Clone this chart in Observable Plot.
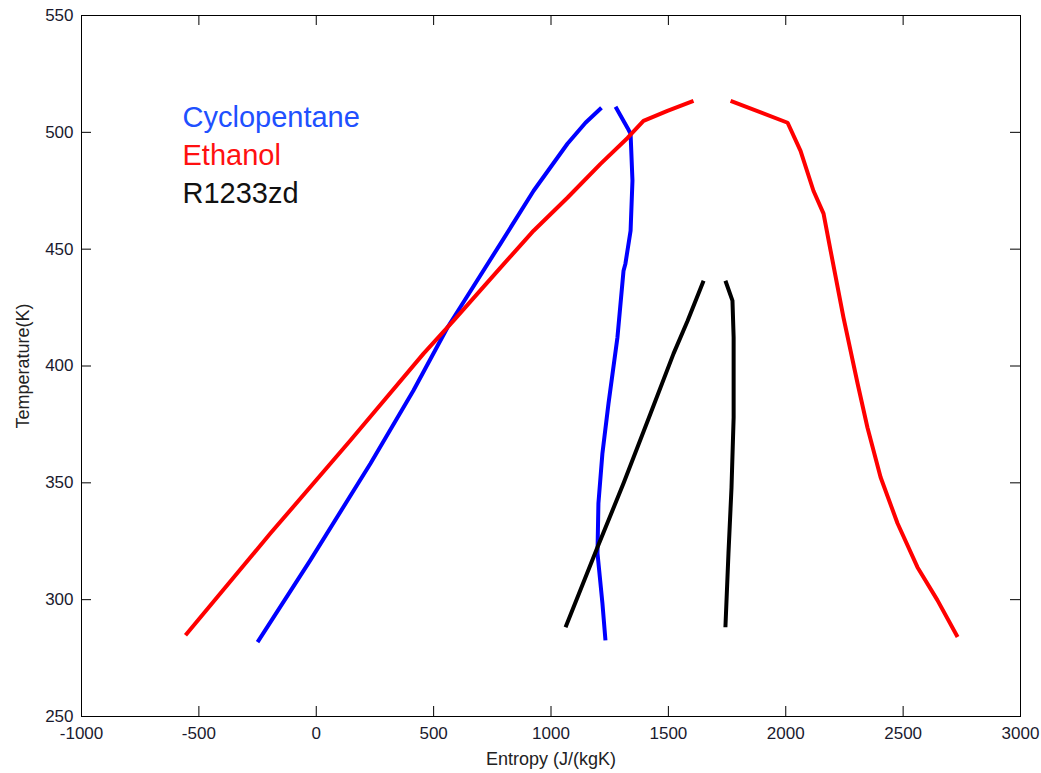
<!DOCTYPE html>
<html>
<head>
<meta charset="utf-8">
<script src="https://cdn.jsdelivr.net/npm/d3@7"></script>
<script src="https://cdn.jsdelivr.net/npm/@observablehq/plot@0.6"></script>
<style>
  html, body { margin: 0; padding: 0; background: #fff; }
  #chart svg { display: block; }
</style>
</head>
<body>
<div id="chart"></div>
<script>
// ---- data (entropy J/(kgK), temperature K) ----
const cycloLiqS = [-250, -25, 231, 414, 559, 785, 926, 1070, 1147, 1215];
const cycloLiqT = [281.8, 316.9, 358.3, 389.5, 416.5, 452.4, 475, 495.1, 504.1, 510.5];
const cycloVapS = [1275, 1326, 1339, 1347, 1339, 1317, 1309, 1283, 1245, 1219, 1202, 1198, 1219, 1232];
const cycloVapT = [510.9, 501.9, 499.4, 479.3, 457.9, 443.8, 440.8, 412.2, 384, 362.6, 341.2, 319.9, 298.5, 282.6];

const ethLiqS = [-557, -195, 146, 457, 585, 785, 926, 1070, 1211, 1326, 1394, 1496, 1607];
const ethLiqT = [284.8, 328.4, 368.2, 405.3, 419.4, 442.1, 457.9, 472, 486.5, 497.6, 504.9, 509.2, 513.5];
const ethVapS = [1765, 2008, 2063, 2118, 2161, 2191, 2246, 2306, 2348, 2404, 2476, 2561, 2646, 2732];
const ethVapT = [513.5, 504.1, 492.1, 475, 465.2, 449.4, 420.7, 392.5, 373.7, 352.4, 332.7, 313.9, 299.8, 284];

const rLiqS = [1062, 1198, 1309, 1424, 1522, 1582, 1650];
const rLiqT = [288.2, 322.4, 349.8, 379.7, 405.3, 419.4, 436.5];
const rVapS = [1743, 1773, 1778, 1778, 1769, 1756, 1743];
const rVapT = [436.5, 428, 412.2, 378, 348.1, 319.9, 288.2];

const fluids = ["Cyclopentane", "Ethanol", "R1233zd"];
const colors = ["#0000ff", "#ff0000", "#000000"];
const legendColors = ["#2050ff", "#ff1010", "#111111"];
const xTicks = [-1000, -500, 0, 500, 1000, 1500, 2000, 2500, 3000];
const yTicks = [250, 300, 350, 400, 450, 500, 550];

// ---- build series ----
function series(name, part, S, T) {
  return S.map((s, i) => ({fluid: name, part, s, t: T[i]}));
}
const rows = [
  ...series("Cyclopentane", "liq", cycloLiqS, cycloLiqT),
  ...series("Cyclopentane", "vap", cycloVapS, cycloVapT),
  ...series("Ethanol", "liq", ethLiqS, ethLiqT),
  ...series("Ethanol", "vap", ethVapS, ethVapT),
  ...series("R1233zd", "liq", rLiqS, rLiqT),
  ...series("R1233zd", "vap", rVapS, rVapT)
];

const W = 1041, H = 773;
const mL = 81, mR = 21, mT = 15, mB = 57;
const xDom = [-1000, 3000], yDom = [250, 550];
const tickPx = 10;
const xPerPx = (xDom[1] - xDom[0]) / (W - mL - mR);
const yPerPx = (yDom[1] - yDom[0]) / (H - mT - mB);

const legend = fluids.map((f, i) => ({f, c: legendColors[i], i}));

const font = "'Liberation Sans', Arial, Helvetica, sans-serif";

const chart = Plot.plot({
  width: W,
  height: H,
  marginLeft: mL,
  marginRight: mR,
  marginTop: mT,
  marginBottom: mB,
  style: {fontFamily: font, background: "#fff", color: "#000"},
  x: {domain: xDom},
  y: {domain: yDom},
  color: {domain: fluids, range: colors},
  marks: [
    Plot.frame({stroke: "#000", strokeWidth: 1}),
    // inward ticks on all four sides
    Plot.ruleX(xTicks, {x: d => d, y1: yDom[0], y2: yDom[0] + tickPx * yPerPx, stroke: "#000"}),
    Plot.ruleX(xTicks, {x: d => d, y1: yDom[1], y2: yDom[1] - tickPx * yPerPx, stroke: "#000"}),
    Plot.ruleY(yTicks, {y: d => d, x1: xDom[0], x2: xDom[0] + tickPx * xPerPx, stroke: "#000"}),
    Plot.ruleY(yTicks, {y: d => d, x1: xDom[1], x2: xDom[1] - tickPx * xPerPx, stroke: "#000"}),
    Plot.axisX({anchor: "bottom", ticks: xTicks, tickSize: 0, tickPadding: 10, fontSize: 17, fill: "#1a1a2e",
      tickFormat: d => String(d), label: null}),
    Plot.axisY({anchor: "left", ticks: yTicks, tickSize: 0, tickPadding: 8, fontSize: 17, fill: "#1a1a2e",
      tickFormat: d => String(d), label: null}),
    Plot.line(rows, {x: "s", y: "t", z: d => d.fluid + d.part, stroke: "fluid", strokeWidth: 4, curve: "linear",
      strokeLinejoin: "round", strokeLinecap: "butt"}),
    Plot.text(legend, {x: xDom[0] + (182 - mL) * xPerPx, y: d => yDom[1] - (126 + d.i * 38 - mT) * yPerPx,
      text: "f", fill: "c", fontSize: 29, textAnchor: "start", lineAnchor: "bottom"}),
    Plot.text(["Entropy (J/(kgK)"], {frameAnchor: "bottom", dy: 48, text: d => d, fontSize: 18, fill: "#222"}),
    Plot.text(["Temperature(K)"], {frameAnchor: "left", dx: -58, rotate: -90, textAnchor: "middle",
      text: d => d, fontSize: 18, fill: "#222"})
  ]
});
document.getElementById("chart").appendChild(chart);
</script>
</body>
</html>
